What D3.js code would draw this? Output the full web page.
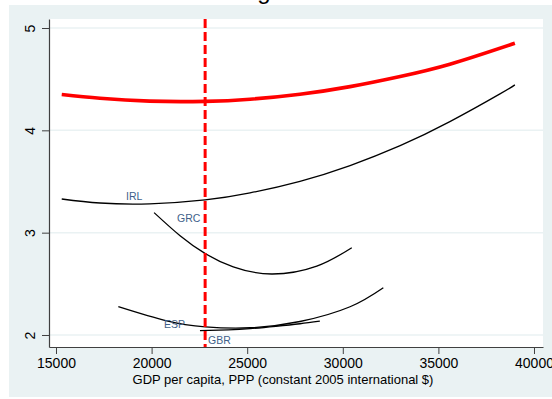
<!DOCTYPE html>
<html>
<head>
<meta charset="utf-8">
<script src="https://cdn.jsdelivr.net/npm/d3@7"></script>
<style>
  body { margin: 0; background: #fff; }
  svg { display: block; font-family: "Liberation Sans", Arial, sans-serif; }
</style>
</head>
<body>
<div id="chart"></div>
<script>
var w = 552, h = 399;

// fitted curves: [gdp, value]
var peakLine = [[15300, 4.350], [17300, 4.313], [19900, 4.285], [22800, 4.283], [25150, 4.304],
                [27760, 4.353], [30380, 4.427], [33000, 4.526], [35600, 4.646], [39000, 4.851]];
var irl = [[15300, 3.329], [17300, 3.290], [19900, 3.282], [22800, 3.320], [25150, 3.389],
           [27760, 3.502], [30380, 3.656], [33000, 3.850], [35600, 4.085], [38220, 4.356], [39000, 4.444]];
var grc = [[20130, 3.196], [21490, 2.970], [22810, 2.795], [24270, 2.666], [26280, 2.596],
           [28640, 2.673], [30470, 2.853]];
var esp = [[18260, 2.277], [20790, 2.138], [22810, 2.080], [25150, 2.071], [27760, 2.132],
           [30380, 2.276], [32120, 2.462]];
var gbr = [[22530, 2.042], [24000, 2.050], [25150, 2.062], [26500, 2.085], [27760, 2.110], [28800, 2.135]];

var countryCurves = [irl, grc, esp, gbr];
var countryLabels = [
  {name: "IRL", gdp: 18660, val: 3.32},
  {name: "GRC", gdp: 21330, val: 3.10},
  {name: "ESP", gdp: 20650, val: 2.07},
  {name: "GBR", gdp: 22950, val: 1.91}
];
var turningPoint = 22800;

var xTicks = [15000, 20000, 25000, 30000, 35000, 40000];
var yTicks = [2, 3, 4, 5];

var x = d3.scaleLinear().domain([14634, 40471]).range([49, 543]);
var y = d3.scaleLinear().domain([1.8827, 5.088]).range([347, 19]);

var svg = d3.select("#chart").append("svg")
  .attr("width", w)
  .attr("height", h);

// graph region
svg.append("rect")
  .attr("x", 9).attr("y", 5)
  .attr("width", w - 9).attr("height", 392)
  .attr("fill", "#eaf2f3");

// clipped title above the region
svg.append("text")
  .attr("x", 264).attr("y", -1)
  .attr("text-anchor", "middle")
  .style("font-size", "24px")
  .text("g");

// plot region
svg.append("rect")
  .attr("x", 49).attr("y", 19)
  .attr("width", 494).attr("height", 328)
  .attr("fill", "#fff");

// gridlines
svg.selectAll(".grid")
  .data(yTicks)
  .enter().append("line")
  .attr("x1", 49).attr("x2", 543)
  .attr("y1", function(d) { return y(d); })
  .attr("y2", function(d) { return y(d); })
  .attr("stroke", "#eaf2f3")
  .attr("stroke-width", 1.5);

var line = d3.line()
  .x(function(d) { return x(d[0]); })
  .y(function(d) { return y(d[1]); })
  .curve(d3.curveNatural);

svg.selectAll(".country")
  .data(countryCurves)
  .enter().append("path")
  .attr("d", line)
  .attr("fill", "none")
  .attr("stroke", "#000")
  .attr("stroke-width", 1.3);

svg.append("path")
  .attr("d", line(peakLine))
  .attr("fill", "none")
  .attr("stroke", "#ff0000")
  .attr("stroke-width", 3.6);

svg.selectAll(".lbl")
  .data(countryLabels)
  .enter().append("text")
  .attr("x", function(d) { return x(d.gdp); })
  .attr("y", function(d) { return y(d.val); })
  .attr("fill", "#3e5f8a")
  .style("font-size", "10.5px")
  .text(function(d) { return d.name; });

svg.append("line")
  .attr("x1", x(turningPoint)).attr("x2", x(turningPoint))
  .attr("y1", 19).attr("y2", 347)
  .attr("stroke", "#ff0000")
  .attr("stroke-width", 3)
  .attr("stroke-dasharray", "9,4");

// axes
var xAxis = svg.append("g")
  .attr("transform", "translate(0,347)")
  .call(d3.axisBottom(x).tickValues(xTicks).tickSize(7).tickSizeOuter(0).tickPadding(4).tickFormat(d3.format("d")));
var yAxis = svg.append("g")
  .attr("transform", "translate(49,0)")
  .call(d3.axisLeft(y).tickValues(yTicks).tickSize(7).tickSizeOuter(0).tickFormat(d3.format("d")));

[xAxis, yAxis].forEach(function(g) {
  g.select(".domain").attr("stroke", "#404040").attr("stroke-width", 1.2);
  g.selectAll(".tick line").attr("stroke", "#404040").attr("stroke-width", 1);
  g.selectAll("text").attr("fill", "#000").style("font-family", "Liberation Sans, Arial, sans-serif").style("font-size", "14px");
});

yAxis.selectAll(".tick text")
  .attr("x", null).attr("dy", null)
  .attr("text-anchor", "middle")
  .attr("transform", "translate(-14,0) rotate(-90)")
  .attr("y", 0);

svg.append("text")
  .attr("x", 283).attr("y", 384)
  .attr("text-anchor", "middle")
  .style("font-size", "13px")
  .text("GDP per capita, PPP (constant 2005 international $)");
</script>
</body>
</html>
